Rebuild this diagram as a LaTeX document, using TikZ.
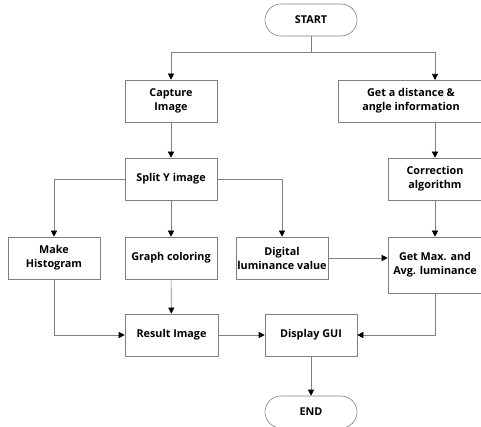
\documentclass[tikz,border=0pt]{standalone}
\usepackage{fontspec}
\setmainfont{Open Sans}
\usetikzlibrary{arrows.meta,positioning}
\begin{document}
\begin{tikzpicture}[x=1pt,y=-1pt,
  box/.style={draw=black!50,line width=0.6pt,fill=white,align=center,inner sep=0pt,
    font=\fontsize{10.8}{14}\selectfont\bfseries,minimum width=92pt,minimum height=42pt},
  term/.style={box,rounded corners=16pt,minimum height=32pt},
  conn/.style={draw=black!50,line width=0.6pt},
  arr/.style={conn,-{Triangle[length=6pt,width=6pt,black]}}]
\clip (0,0) rectangle (481,427);
\fill[white] (0,0) rectangle (481,427);
\node[term] (start) at (311,20) {START};
\node[box] (cap) at (171,101) {Capture\\Image};
\node[box,minimum width=146pt] (dist) at (411,101) {Get a distance \&\\angle information};
\node[box] (split) at (171,179) {Split Y image};
\node[box,minimum width=94pt] (corr) at (435,179) {Correction\\algorithm};
\node[box] (hist) at (54,258) {Make\\Histogram};
\node[box] (graph) at (171,258) {Graph coloring};
\node[box] (dig) at (282,258) {Digital\\luminance value};
\node[box,minimum width=94pt,minimum height=56pt] (max) at (435,265) {Get Max. and\\Avg. luminance};
\node[box,minimum width=93pt] (res) at (171.5,335) {Result Image};
\node[box] (disp) at (311,335) {Display GUI};
\node[term] (end) at (311,412) {END};
\coordinate (br) at (311,52);
\coordinate (dtop) at (435,80);
\draw[conn] (start.south) -- (br);
\draw[arr] (br) -| (cap.north);
\draw[arr] (br) -| (dtop);
\draw[arr] (cap) -- (split);
\draw[arr] (dist.south -| corr.north) -- (corr.north);
\draw[arr] (corr) -- (max);
\draw[arr] (split.west) -| (hist.north);
\draw[arr] (split) -- (graph);
\draw[arr] (split.east) -| (dig.north);
\draw[arr] (dig.east) -- (dig.east -| max.west);
\draw[arr] (hist.south) |- (res.west);
\draw[arr] (graph) -- (res);
\draw[arr] (res) -- (disp);
\draw[arr] (max.south) |- (disp.east);
\draw[arr] (disp) -- (end);
\end{tikzpicture}
\end{document}
